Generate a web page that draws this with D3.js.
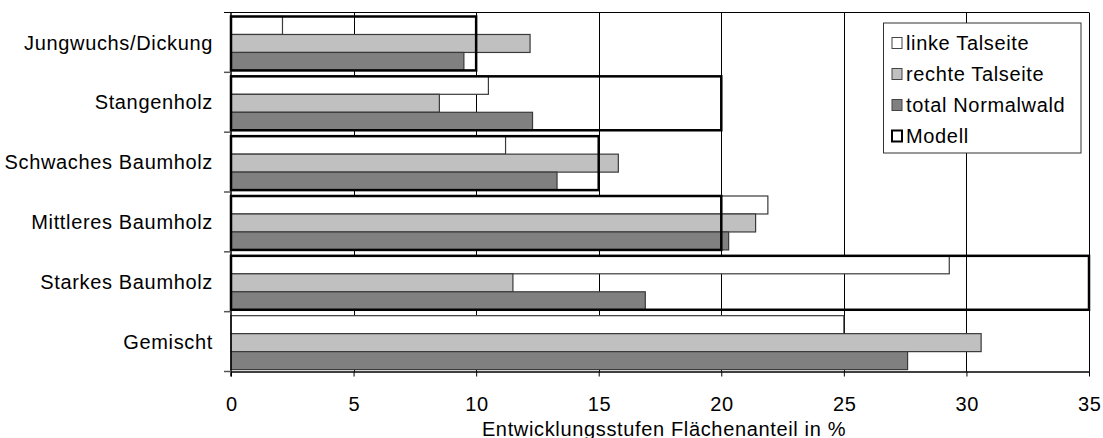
<!DOCTYPE html>
<html>
<head>
<meta charset="utf-8">
<script src="https://d3js.org/d3.v7.min.js"></script>
<style>
  body { margin: 0; background: #fff; }
  text { font-family: "Liberation Sans", Arial, sans-serif; font-size: 20px; letter-spacing: 0.65px; fill: #000; }
</style>
</head>
<body>
<svg id="chart" width="1103" height="438"></svg>
<script>
// data
var categories = ["Jungwuchs/Dickung", "Stangenholz", "Schwaches Baumholz",
                  "Mittleres Baumholz", "Starkes Baumholz", "Gemischt"];
var linke  = [2.1, 10.5, 11.2, 21.9, 29.3, 25.0];
var rechte = [12.2, 8.5, 15.8, 21.4, 11.5, 30.6];
var total  = [9.5, 12.3, 13.3, 20.3, 16.9, 27.6];
var modell = [10, 20, 15, 20, 35, 0];
var seriesNames = ["linke Talseite", "rechte Talseite", "total Normalwald", "Modell"];
var xTicks = [0, 5, 10, 15, 20, 25, 30, 35];

var margin = {top: 12.5, right: 14, bottom: 66.5, left: 231};
var width = 1103 - margin.left - margin.right,
    height = 438 - margin.top - margin.bottom;

var svg = d3.select("#chart")
    .append("g")
    .attr("transform", "translate(" + margin.left + "," + margin.top + ")");

// scales
var x = d3.scaleLinear().domain([0, 35]).range([0, width]);
var y = d3.scaleBand().domain(categories).range([0, height]).padding(0);
var inner = d3.scaleBand().domain([0, 1, 2])
    .range([4, y.bandwidth() - 1.9]).padding(0);

var crisp = function(v) { return Math.round(v) + 0.5; };

var rows = categories.map(function(c, i) {
    return {cat: c, vals: [linke[i], rechte[i], total[i]], model: modell[i]};
});
var fills = ["#ffffff", "#c0c0c0", "#808080"];

// gridlines
svg.append("g").selectAll("line")
    .data(xTicks.slice(1))
    .enter().append("line")
    .attr("x1", function(d) { return crisp(x(d)); })
    .attr("x2", function(d) { return crisp(x(d)); })
    .attr("y1", 0).attr("y2", height)
    .style("stroke", "#000").style("stroke-width", 1);

// top border
svg.append("line")
    .attr("x1", -7).attr("x2", width)
    .attr("y1", 0).attr("y2", 0)
    .style("stroke", "#000").style("stroke-width", 1.2);

// bars
var groups = svg.selectAll(".row")
    .data(rows)
    .enter().append("g")
    .attr("class", "row")
    .attr("transform", function(d) { return "translate(0," + y(d.cat) + ")"; });

groups.selectAll("rect")
    .data(function(d) { return d.vals; })
    .enter().append("rect")
    .attr("x", x(0))
    .attr("y", function(d, i) { return inner(i); })
    .attr("width", function(d) { return x(d) - x(0); })
    .attr("height", inner.bandwidth())
    .style("fill", function(d, i) { return fills[i]; })
    .style("stroke", "#3a3a3a")
    .style("stroke-width", 1.2);

// Modell boxes
groups.filter(function(d) { return d.model > 0; })
    .append("rect")
    .attr("x", x(0))
    .attr("y", inner(0))
    .attr("width", function(d) { return x(d.model) - x(0); })
    .attr("height", inner.bandwidth() * 3)
    .style("fill", "none")
    .style("stroke", "#000")
    .style("stroke-width", 2.5);

// x axis
var xAxis = svg.append("g")
    .attr("transform", "translate(0," + height + ")")
    .call(d3.axisBottom(x).tickValues(xTicks).tickSize(5).tickPadding(20).tickSizeOuter(0));
xAxis.select(".domain").style("stroke", "#000").style("stroke-width", 1.5);
xAxis.selectAll(".tick line").style("stroke", "#000");
xAxis.selectAll("text")
    .attr("dx", "0.3px")
    .style("font-family", "'Liberation Sans', Arial, sans-serif")
    .style("font-size", "20px");

svg.append("text")
    .attr("x", width / 2 + 4)
    .attr("y", height + 64)
    .style("text-anchor", "middle")
    .text("Entwicklungsstufen Flächenanteil in %");

// y axis: line, boundary ticks, labels
svg.append("line")
    .attr("x1", 0).attr("x2", 0)
    .attr("y1", 0).attr("y2", height + 5)
    .style("stroke", "#000").style("stroke-width", 1.5);

svg.append("g").selectAll("line")
    .data(categories)
    .enter().append("line")
    .attr("x1", -7).attr("x2", 0)
    .attr("y1", function(d) { return y(d) + y.bandwidth(); })
    .attr("y2", function(d) { return y(d) + y.bandwidth(); })
    .style("stroke", "#555").style("stroke-width", 1.5);

svg.append("g").selectAll("text")
    .data(categories)
    .enter().append("text")
    .attr("x", -18)
    .attr("y", function(d) { return y(d) + y.bandwidth() / 2; })
    .attr("dy", "0.36em")
    .style("text-anchor", "end")
    .text(function(d) { return d; });

// legend
var legend = d3.select("#chart").append("g")
    .attr("transform", "translate(883.5,23)");
legend.append("rect")
    .attr("width", 197.5).attr("height", 130)
    .style("fill", "#fff")
    .style("stroke", "#333").style("stroke-width", 1);

var item = legend.selectAll(".item")
    .data(seriesNames)
    .enter().append("g")
    .attr("class", "item")
    .attr("transform", function(d, i) { return "translate(8.5," + (20 + i * 31) + ")"; });

item.append("rect")
    .attr("x", 0).attr("y", -5.5)
    .attr("width", 10).attr("height", 11)
    .style("fill", function(d, i) { return i < 3 ? fills[i] : "#fff"; })
    .style("stroke", function(d, i) { return i < 3 ? "#444" : "#000"; })
    .style("stroke-width", function(d, i) { return i < 3 ? 1 : 2; });

item.append("text")
    .attr("x", 14)
    .attr("y", 0)
    .attr("dy", "0.36em")
    .text(function(d) { return d; });
</script>
</body>
</html>
